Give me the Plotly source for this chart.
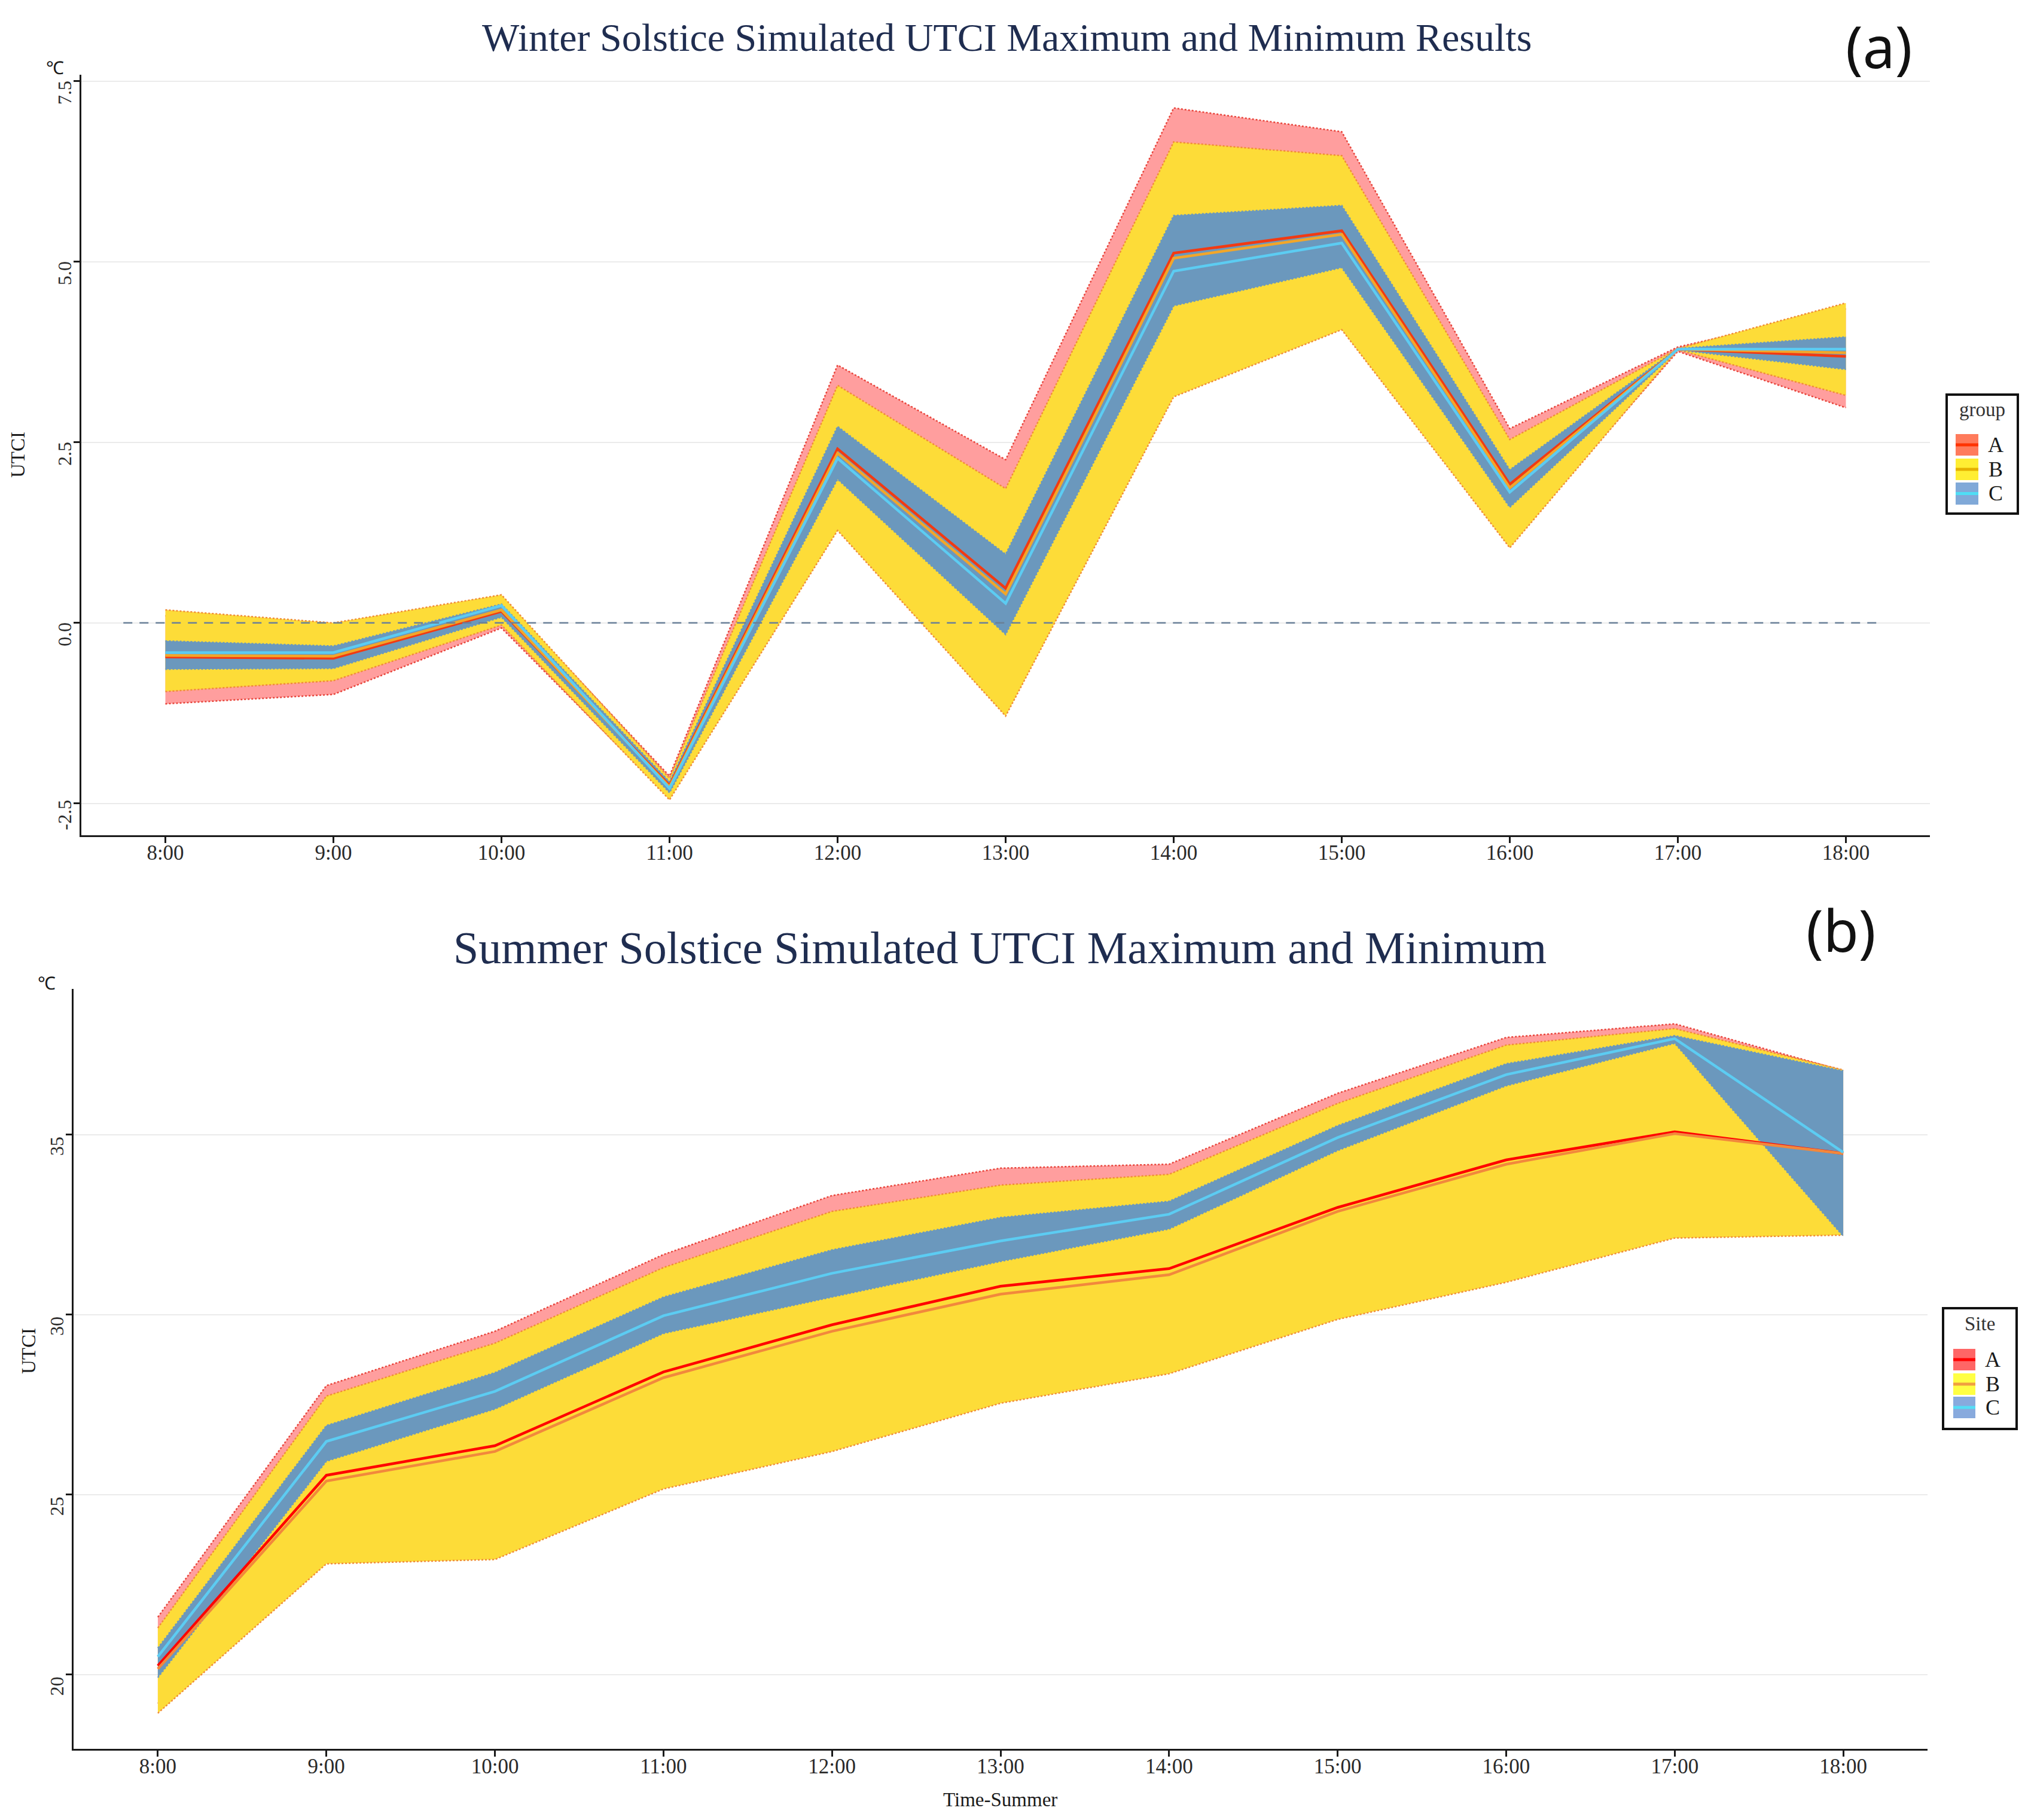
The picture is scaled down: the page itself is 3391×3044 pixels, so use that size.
import plotly.graph_objects as go

W, H = 3391, 3044
OFF = 8  # default body margin of the html page
FW, FH = W - 2 * OFF, H - 2 * OFF

hours = ["8:00", "9:00", "10:00", "11:00", "12:00", "13:00",
         "14:00", "15:00", "16:00", "17:00", "18:00"]

# winter solstice (a)
win_a_max = [0.10, -0.05, 0.35, -2.12, 3.57, 2.26, 7.13, 6.80, 2.69, 3.82, 4.35]
win_a_min = [-1.12, -0.99, -0.07, -2.42, 1.35, -1.10, 3.20, 4.12, 1.10, 3.76, 2.98]
win_b_max = [0.18, 0.00, 0.39, -2.15, 3.29, 1.86, 6.66, 6.47, 2.54, 3.80, 4.43]
win_b_min = [-0.95, -0.80, -0.03, -2.45, 1.28, -1.29, 3.13, 4.06, 1.04, 3.78, 3.15]
win_c_max = [-0.25, -0.32, 0.26, -2.20, 2.72, 0.95, 5.64, 5.78, 2.12, 3.80, 3.96]
win_c_min = [-0.64, -0.63, 0.08, -2.35, 1.99, -0.16, 4.39, 4.92, 1.60, 3.78, 3.51]
win_a_mean = [-0.47, -0.49, 0.16, -2.25, 2.41, 0.48, 5.12, 5.43, 1.92, 3.79, 3.69]
win_b_mean = [-0.45, -0.46, 0.18, -2.27, 2.35, 0.40, 5.05, 5.38, 1.87, 3.79, 3.74]
win_c_mean = [-0.41, -0.41, 0.24, -2.29, 2.28, 0.27, 4.87, 5.26, 1.81, 3.79, 3.79]

# summer solstice (b)
sum_a_max = [21.60, 28.03, 29.54, 31.67, 33.31, 34.07, 34.18, 36.15, 37.70, 38.08, 36.78]
sum_a_min = [19.20, 23.40, 23.50, 25.40, 26.50, 27.80, 28.60, 30.10, 31.20, 32.40, 32.30]
sum_b_max = [21.30, 27.74, 29.21, 31.31, 32.87, 33.60, 33.90, 35.87, 37.49, 37.95, 36.80]
sum_b_min = [18.93, 23.08, 23.20, 25.16, 26.20, 27.54, 28.36, 29.87, 30.90, 32.13, 32.21]
sum_c_max = [20.74, 26.92, 28.39, 30.49, 31.80, 32.70, 33.15, 35.25, 36.97, 37.75, 36.77]
sum_c_min = [19.92, 25.93, 27.38, 29.48, 30.49, 31.48, 32.38, 34.56, 36.36, 37.54, 32.18]
sum_a_mean = [20.25, 25.54, 26.36, 28.41, 29.72, 30.79, 31.28, 32.98, 34.30, 35.08, 34.48]
sum_b_mean = [20.16, 25.38, 26.20, 28.25, 29.54, 30.57, 31.11, 32.87, 34.18, 35.03, 34.48]
sum_c_mean = [20.50, 26.48, 27.87, 29.97, 31.15, 32.05, 32.79, 34.92, 36.67, 37.67, 34.51]

groups = ["A", "B", "C"]
zero_line_x = [-0.25, 10.2]

FILL = {"A": "#FF9E9E", "B": "#FDDC38", "C": "#6B98BD"}
EDGE = {"A": "#E8453C", "B": "#F08C3A", "C": "#6B98BD"}
LINE_A = {"x": "#F23A12", "x2": "#FF0000"}
LINE_B = {"x": "#F2A62A", "x2": "#F2883C"}
LINE_C = "#5CCCF2"

SERIF = "Liberation Serif"


def px_x(p):
    return (p - OFF) / FW


def px_y(p):
    return 1 - (p - OFF) / FH


fig = go.Figure()


def add_panel(xa, ya, rib, means):
    # ribbons: A below, B over it, C on top
    for g in groups:
        lo, hi = rib[g]
        fig.add_trace(go.Scatter(
            x=hours + hours[::-1], y=hi + lo[::-1], xaxis=xa, yaxis=ya,
            fill="toself", fillcolor=FILL[g], line=dict(width=0),
            mode="lines", showlegend=False, hoverinfo="skip"))
        for edge in (hi, lo):
            fig.add_trace(go.Scatter(
                x=hours, y=edge, xaxis=xa, yaxis=ya, mode="lines",
                line=dict(color=EDGE[g], width=2.5, dash="dot"),
                showlegend=False))
    cols = [LINE_A[xa], LINE_B[xa], LINE_C]
    for vals, c in zip(means, cols):
        fig.add_trace(go.Scatter(
            x=hours, y=vals, xaxis=xa, yaxis=ya, mode="lines",
            line=dict(color=c, width=4.5), showlegend=False))


add_panel("x", "y",
          {"A": (win_a_min, win_a_max), "B": (win_b_min, win_b_max),
           "C": (win_c_min, win_c_max)},
          [win_a_mean, win_b_mean, win_c_mean])
add_panel("x2", "y2",
          {"A": (sum_a_min, sum_a_max), "B": (sum_b_min, sum_b_max),
           "C": (sum_c_min, sum_c_max)},
          [sum_a_mean, sum_b_mean, sum_c_mean])

axis_common = dict(showline=True, linecolor="#1a1a1a", linewidth=3,
                   ticks="outside", ticklen=10, tickwidth=3, tickcolor="#1a1a1a",
                   zeroline=False)
xtick = dict(tickfont=dict(family=SERIF, size=35, color="#2a2a2a"), ticklabelstandoff=-14)
ytick = dict(tickfont=dict(family=SERIF, size=32, color="#2a2a2a"), tickangle=-90,
             ticklabelstandoff=-9, ticklabelshift=24)

fig.update_layout(
    width=FW, height=FH, paper_bgcolor="white", plot_bgcolor="white",
    margin=dict(l=0, r=0, t=0, b=0),
    xaxis=dict(domain=[px_x(136), px_x(3227)], anchor="y", type="category",
               range=[-0.5, 10.5], showgrid=False, **axis_common, **xtick),
    yaxis=dict(domain=[px_y(1397), px_y(125)], anchor="x", range=[-2.94, 7.59],
               tickvals=[-2.5, 0, 2.5, 5, 7.5], ticktext=["-2.5", "0.0", "2.5", "5.0", "7.5"],
               showgrid=True, gridcolor="#EBEBEB", gridwidth=2,
               **axis_common, **ytick),
    xaxis2=dict(domain=[px_x(123), px_x(3223)], anchor="y2", type="category",
                range=[-0.5, 10.5], showgrid=False, **axis_common, **xtick),
    yaxis2=dict(domain=[px_y(2925), px_y(1654)], anchor="x2", range=[17.94, 39.05],
                tickvals=[20, 25, 30, 35], showgrid=True,
                gridcolor="#EBEBEB", gridwidth=2, **axis_common, **ytick),
)

# dashed zero reference in (a)
fig.add_shape(type="line", xref="x", yref="y", x0=zero_line_x[0], x1=zero_line_x[1],
              y0=0, y1=0, line=dict(color="#6A8098", width=2.5, dash="15px,12px"))

ann = []


def text(xp, yp, s, size, family=SERIF, color="#1a1a1a", angle=0):
    ann.append(dict(x=px_x(xp), y=px_y(yp), xref="paper", yref="paper", text=s,
                    showarrow=False, textangle=angle, xanchor="center", yanchor="middle",
                    font=dict(family=family, size=size, color=color)))


text(1683, 62, "Winter Solstice Simulated UTCI Maximum and Minimum Results", 66, color="#1F2D50")
text(1672, 1585, "Summer Solstice Simulated UTCI Maximum and Minimum", 76, color="#1F2D50")
text(3141, 76, "(a)", 96, family="Noto Sans", color="#111111")
text(3078, 1554, "(b)", 96, family="Noto Sans", color="#111111")
text(30, 761, "UTCI", 33, angle=-90)
text(48, 2260, "UTCI", 33, angle=-90)
text(92, 114, "℃", 30)
text(78, 1644, "℃", 30)
text(1672, 3010, "Time-Summer", 33)

# legends
legends = [
    dict(box=(3255, 660, 3374, 859), title="group", ty=685, lx=3337, kx=(3270, 3308),
         rows=[(726, 762), (767, 803), (807, 844)],
         fills=["#FF7B5C", "#FFEE33", "#80A9D8"],
         lines=["#FF3300", "#E6B000", "#4FDDF5"]),
    dict(box=(3249, 2188, 3372, 2390), title="Site", ty=2214, lx=3332, kx=(3266, 3303),
         rows=[(2256, 2292), (2297, 2333), (2336, 2372)],
         fills=["#FF6666", "#FFFF44", "#88AADD"],
         lines=["#FF0000", "#F0A040", "#55DDF5"]),
]
for lg in legends:
    x0, y0, x1, y1 = lg["box"]
    fig.add_shape(type="rect", xref="paper", yref="paper", x0=px_x(x0), x1=px_x(x1),
                  y0=px_y(y1), y1=px_y(y0), line=dict(color="#111111", width=4),
                  fillcolor="white")
    text((x0 + x1) / 2, lg["ty"], lg["title"], 33, color="#333333")
    for g, (ry0, ry1), fc, lc in zip(groups, lg["rows"], lg["fills"], lg["lines"]):
        kx0, kx1 = lg["kx"]
        fig.add_shape(type="rect", xref="paper", yref="paper", x0=px_x(kx0), x1=px_x(kx1),
                      y0=px_y(ry1), y1=px_y(ry0), line=dict(width=0), fillcolor=fc)
        ym = (ry0 + ry1) / 2
        fig.add_shape(type="line", xref="paper", yref="paper", x0=px_x(kx0), x1=px_x(kx1),
                      y0=px_y(ym), y1=px_y(ym), line=dict(color=lc, width=5))
        text(lg["lx"], ym, g, 36)

fig.update_layout(annotations=ann)

fig.write_html("out.html")
